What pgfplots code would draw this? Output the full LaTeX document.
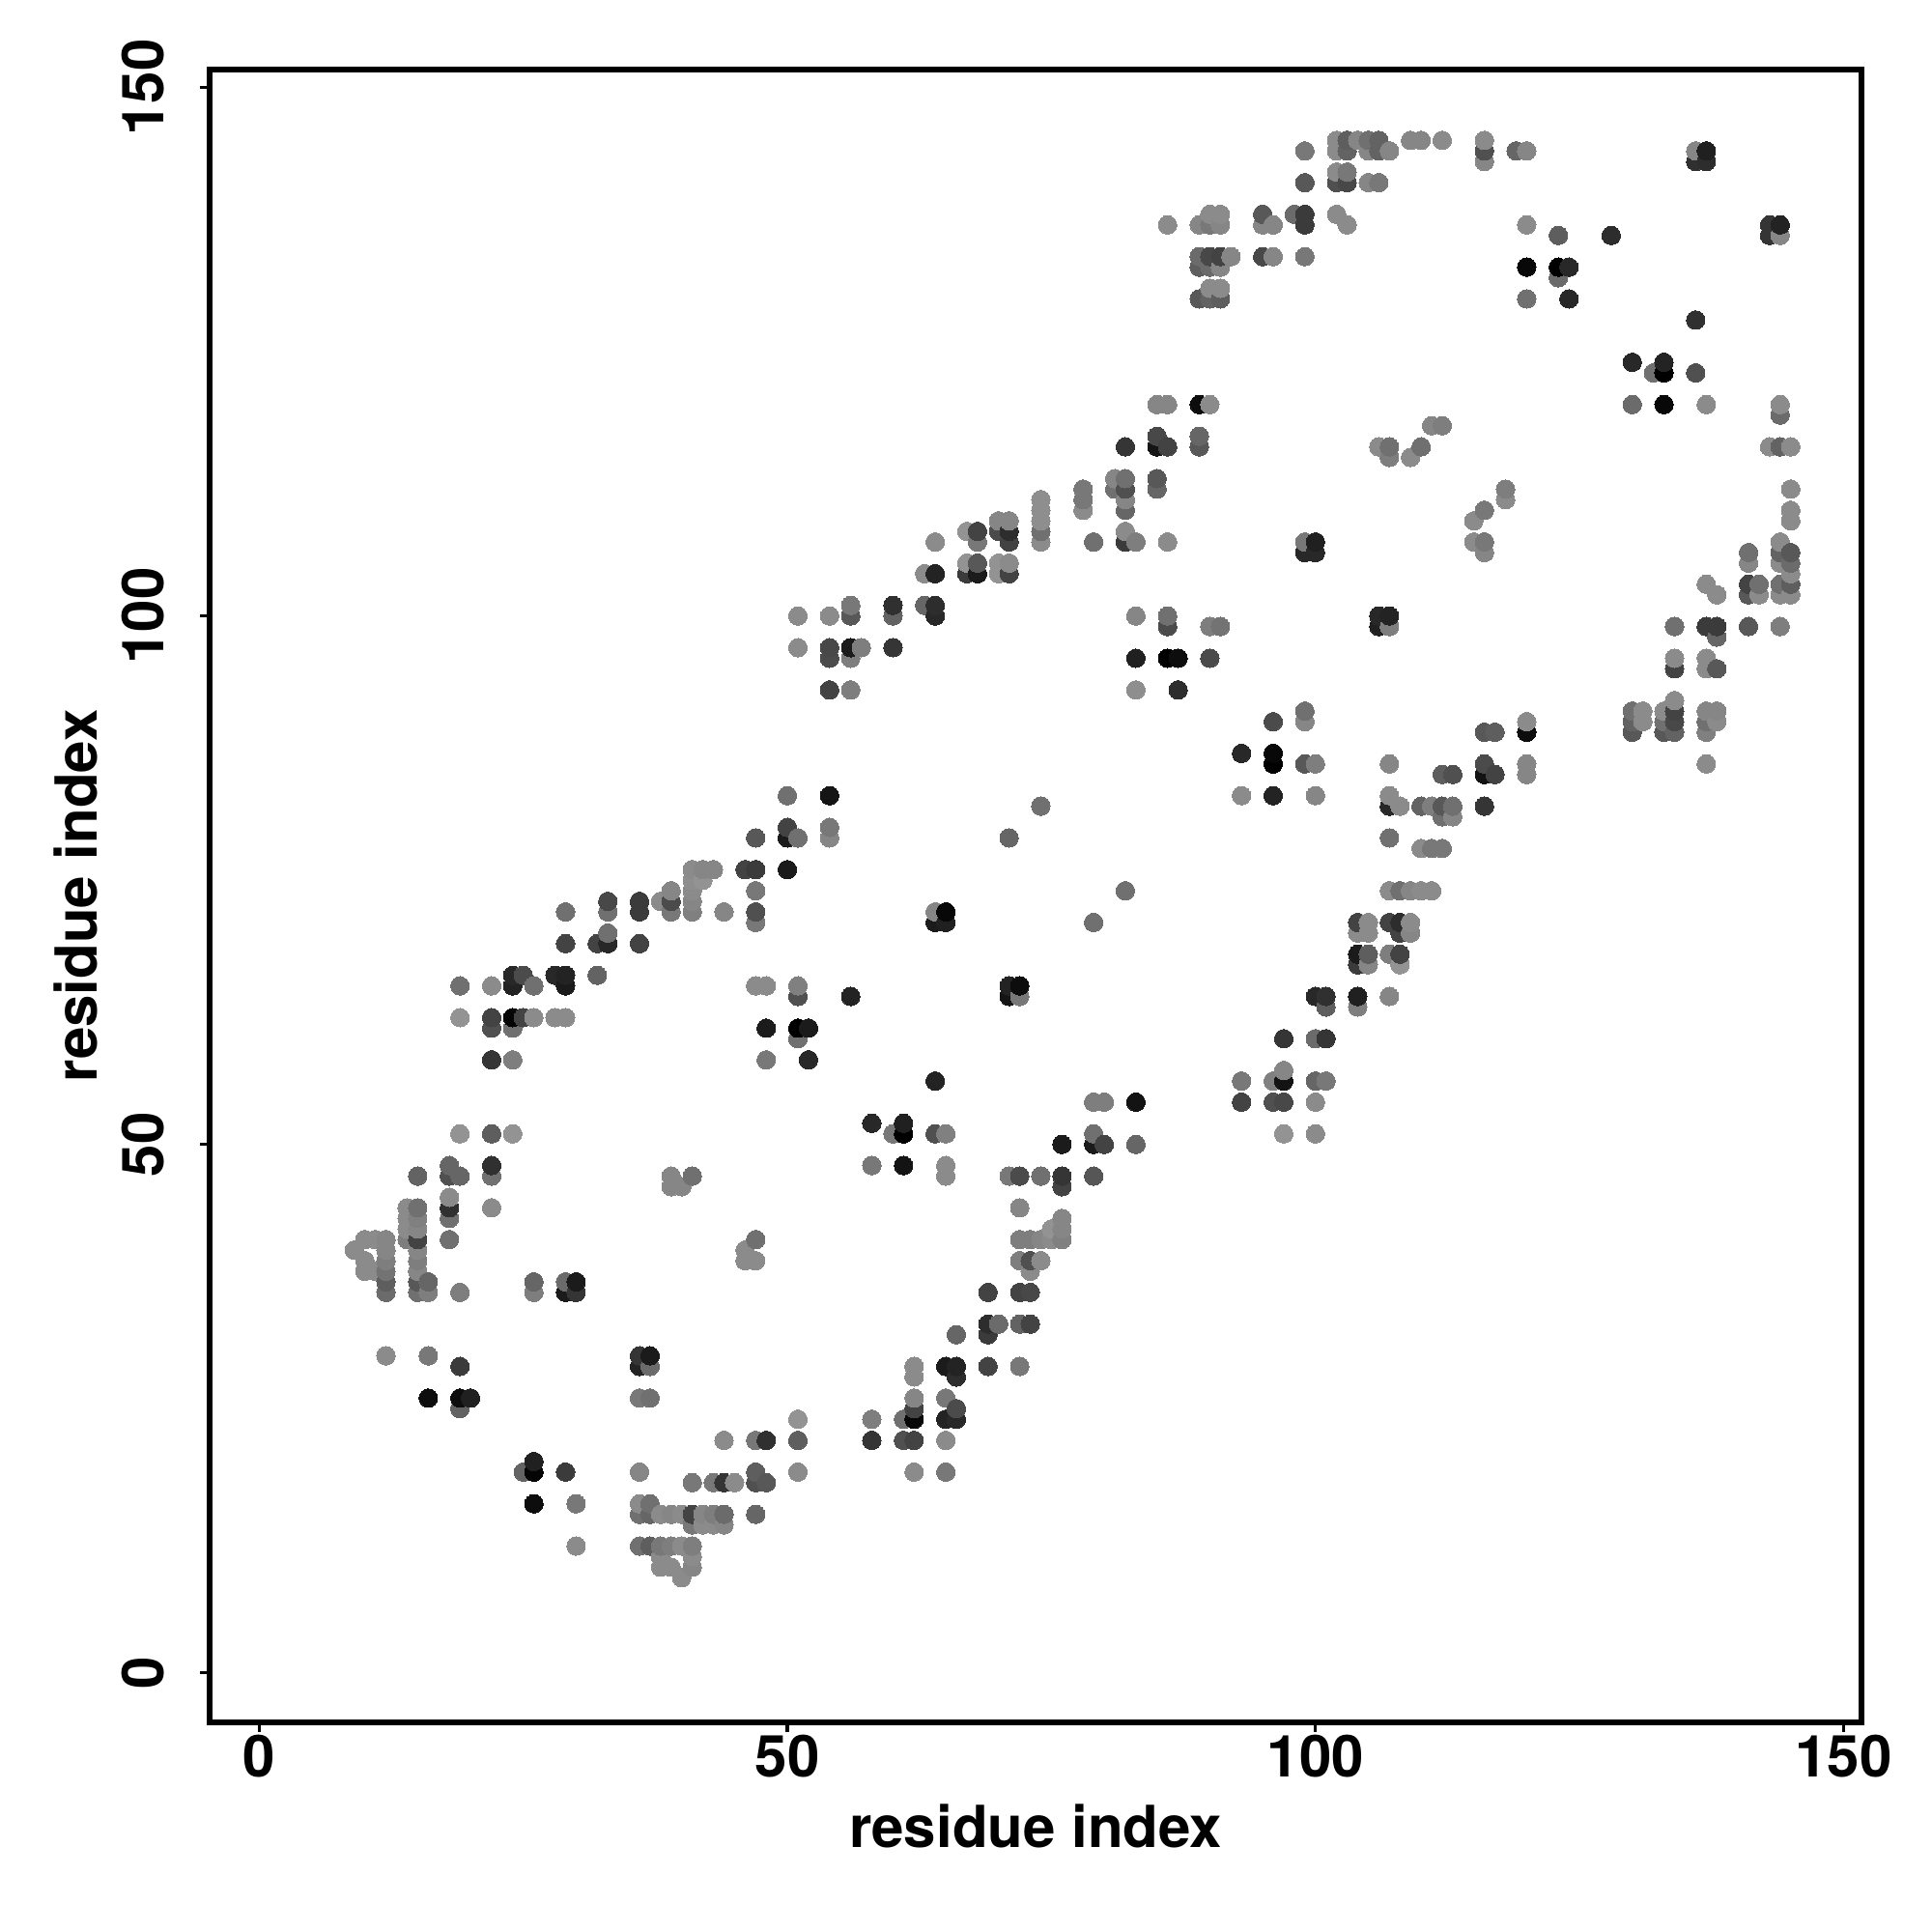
\documentclass[border=0pt]{standalone}
\usepackage{fontspec}
\setmainfont{TeX Gyre Heros}
\usepackage{pgfplots}
\usepackage{pgfplotstable}
\pgfplotsset{compat=1.18}

% x y grey level (0 black, 1 white), sorted by x then y: later points sit on top
\pgfplotstableread[row sep=\\]{
x y g\\
9 40 .52\\
10 38 .52\\ 10 39 .52\\ 10 41 .52\\
11 38 .52\\ 11 41 .52\\
12 30 .52\\ 12 36 .4\\ 12 37 .35\\ 12 38 .43\\ 12 39 .47\\ 12 40 .5\\ 12 41 .5\\
14 41 .47\\ 14 42 .52\\ 14 43 .52\\ 14 44 .52\\
15 36 .42\\ 15 37 .33\\ 15 38 .5\\ 15 39 .47\\ 15 40 .5\\ 15 41 .25\\ 15 42 .5\\ 15 43 .48\\ 15 44 .42\\ 15 47 .37\\
16 26 .05\\ 16 30 .45\\ 16 36 .47\\ 16 37 .38\\
18 41 .42\\ 18 43 .42\\ 18 44 .18\\ 18 45 .52\\ 18 47 .3\\ 18 48 .38\\
19 25 .37\\ 19 26 .05\\ 19 29 .22\\ 19 36 .47\\ 19 47 .38\\ 19 51 .55\\ 19 62 .55\\ 19 65 .42\\
20 26 .12\\
22 44 .52\\ 22 47 .42\\ 22 48 .18\\ 22 51 .35\\ 22 58 .2\\ 22 61 .3\\ 22 62 .25\\ 22 65 .52\\
24 51 .55\\ 24 58 .47\\ 24 61 .42\\ 24 62 .02\\ 24 65 .13\\ 24 66 .15\\
25 19 .37\\ 25 62 .25\\ 25 66 .28\\
26 16 .05\\ 26 19 .02\\ 26 20 .12\\ 26 36 .47\\ 26 37 .38\\ 26 62 .52\\ 26 65 .42\\
28 62 .52\\ 28 66 .15\\
29 19 .22\\ 29 36 .1\\ 29 37 .4\\ 29 62 .52\\ 29 65 .1\\ 29 66 .13\\ 29 69 .25\\ 29 72 .42\\
30 12 .52\\ 30 16 .45\\ 30 36 .2\\ 30 37 .1\\
32 66 .37\\ 32 69 .25\\
33 69 .15\\ 33 70 .42\\ 33 72 .42\\ 33 73 .27\\
36 12 .42\\ 36 15 .42\\ 36 16 .52\\ 36 19 .5\\ 36 26 .45\\ 36 29 .13\\ 36 30 .2\\ 36 69 .25\\ 36 72 .22\\ 36 73 .22\\
37 12 .35\\ 37 15 .38\\ 37 16 .42\\ 37 26 .42\\ 37 29 .4\\ 37 30 .1\\
38 10 .52\\ 38 11 .52\\ 38 12 .45\\ 38 15 .52\\ 38 73 .52\\
39 10 .52\\ 39 12 .47\\ 39 15 .5\\ 39 46 .5\\ 39 47 .5\\ 39 72 .45\\ 39 73 .28\\ 39 74 .5\\
40 9 .52\\ 40 12 .52\\ 40 15 .52\\ 40 46 .5\\
41 10 .5\\ 41 11 .52\\ 41 12 .47\\ 41 14 .45\\ 41 15 .25\\ 41 18 .45\\ 41 47 .42\\ 41 72 .48\\ 41 73 .5\\ 41 74 .52\\ 41 75 .53\\ 41 76 .52\\
42 14 .52\\ 42 15 .5\\ 42 75 .55\\ 42 76 .5\\
43 14 .52\\ 43 15 .47\\ 43 18 .45\\ 43 76 .5\\
44 14 .5\\ 44 15 .4\\ 44 18 .2\\ 44 22 .52\\ 44 72 .5\\
45 18 .52\\
46 39 .52\\ 46 40 .52\\ 46 76 .25\\
47 15 .38\\ 47 18 .3\\ 47 19 .35\\ 47 22 .45\\ 47 39 .52\\ 47 41 .42\\ 47 65 .52\\ 47 71 .45\\ 47 72 .3\\ 47 74 .45\\ 47 76 .22\\ 47 79 .33\\
48 18 .33\\ 48 22 .18\\ 48 58 .45\\ 48 61 .1\\ 48 65 .52\\
50 76 .1\\ 50 79 .1\\ 50 80 .25\\ 50 83 .42\\
51 19 .52\\ 51 22 .35\\ 51 24 .55\\ 51 60 .42\\ 51 61 .0\\ 51 64 .3\\ 51 65 .48\\ 51 79 .42\\ 51 97 .52\\ 51 100 .52\\
52 58 .15\\ 52 61 .1\\
54 79 .5\\ 54 80 .45\\ 54 83 .08\\ 54 93 .25\\ 54 96 .28\\ 54 97 .27\\ 54 100 .52\\
56 64 .13\\ 56 93 .47\\ 56 96 .47\\ 56 97 .1\\ 56 100 .33\\ 56 101 .45\\
57 97 .47\\
58 22 .2\\ 58 24 .47\\ 58 48 .45\\ 58 52 .15\\
60 51 .45\\ 60 97 .2\\ 60 100 .37\\ 60 101 .18\\
61 22 .3\\ 61 24 .42\\ 61 48 .07\\ 61 51 .0\\ 61 52 .12\\
62 19 .52\\ 62 22 .25\\ 62 24 .03\\ 62 25 .25\\ 62 26 .5\\ 62 28 .52\\ 62 29 .52\\
63 101 .38\\ 63 104 .52\\
64 51 .3\\ 64 56 .13\\ 64 71 .1\\ 64 72 .5\\ 64 100 .15\\ 64 101 .17\\ 64 104 .13\\ 64 107 .52\\
65 19 .45\\ 65 22 .52\\ 65 24 .13\\ 65 26 .45\\ 65 29 .1\\ 65 47 .52\\ 65 48 .52\\ 65 51 .48\\ 65 71 .12\\ 65 72 .03\\
66 24 .15\\ 66 25 .28\\ 66 28 .17\\ 66 29 .13\\ 66 32 .38\\
67 104 .22\\ 67 105 .55\\ 67 108 .55\\
68 104 .1\\ 68 105 .33\\ 68 107 .45\\ 68 108 .25\\
69 29 .25\\ 69 32 .22\\ 69 33 .17\\ 69 36 .25\\
70 33 .4\\ 70 104 .55\\ 70 105 .55\\ 70 108 .28\\ 70 109 .5\\
71 47 .45\\ 71 64 .08\\ 71 65 .13\\ 71 79 .38\\ 71 104 .25\\ 71 105 .52\\ 71 107 .25\\ 71 108 .17\\ 71 109 .5\\
72 29 .45\\ 72 33 .37\\ 72 36 .25\\ 72 39 .47\\ 72 41 .47\\ 72 44 .5\\ 72 47 .28\\ 72 64 .45\\ 72 65 .05\\
73 33 .25\\ 73 36 .27\\ 73 38 .52\\ 73 39 .3\\ 73 41 .47\\
74 39 .52\\ 74 41 .5\\ 74 47 .42\\ 74 82 .42\\ 74 107 .52\\ 74 108 .42\\ 74 109 .53\\ 74 110 .53\\ 74 111 .53\\
75 41 .52\\ 75 42 .55\\
76 41 .48\\ 76 42 .5\\ 76 43 .5\\ 76 46 .25\\ 76 47 .2\\ 76 50 .1\\
78 110 .52\\ 78 111 .45\\ 78 112 .45\\
79 47 .32\\ 79 50 .1\\ 79 51 .42\\ 79 54 .47\\ 79 71 .42\\ 79 107 .42\\
80 50 .25\\ 80 54 .47\\
81 112 .42\\ 81 113 .5\\
82 74 .42\\ 82 107 .22\\ 82 108 .52\\ 82 110 .38\\ 82 111 .5\\ 82 112 .3\\ 82 113 .42\\ 82 116 .2\\
83 50 .38\\ 83 54 .07\\ 83 93 .53\\ 83 96 .12\\ 83 100 .5\\ 83 107 .47\\
85 112 .38\\ 85 113 .33\\ 85 116 .08\\ 85 117 .27\\ 85 120 .5\\
86 96 .0\\ 86 99 .28\\ 86 100 .42\\ 86 107 .52\\ 86 116 .25\\ 86 120 .5\\ 86 137 .52\\
87 93 .17\\ 87 96 .05\\
89 116 .33\\ 89 117 .38\\ 89 120 .05\\ 89 130 .33\\ 89 133 .35\\ 89 134 .4\\ 89 137 .5\\
90 96 .28\\ 90 99 .47\\ 90 120 .52\\ 90 130 .37\\ 90 131 .52\\ 90 133 .4\\ 90 134 .27\\ 90 137 .45\\ 90 138 .52\\
91 99 .43\\ 91 130 .35\\ 91 131 .52\\ 91 133 .5\\ 91 134 .25\\ 91 137 .5\\ 91 138 .52\\
92 134 .5\\
93 54 .25\\ 93 56 .45\\ 93 83 .52\\ 93 87 .15\\
95 134 .27\\ 95 137 .5\\ 95 138 .33\\
96 54 .3\\ 96 56 .48\\ 96 83 .13\\ 96 86 .0\\ 96 87 .03\\ 96 90 .28\\ 96 134 .5\\ 96 137 .5\\
97 51 .55\\ 97 54 .27\\ 97 56 .07\\ 97 57 .5\\ 97 60 .2\\
98 138 .4\\
99 86 .33\\ 99 90 .5\\ 99 91 .42\\ 99 106 .15\\ 99 107 .45\\ 99 134 .45\\ 99 137 .22\\ 99 138 .22\\ 99 141 .33\\ 99 144 .45\\
100 51 .52\\ 100 54 .52\\ 100 56 .38\\ 100 60 .4\\ 100 64 .15\\ 100 83 .5\\ 100 86 .47\\ 100 106 .15\\ 100 107 .12\\
101 56 .45\\ 101 60 .2\\ 101 63 .35\\ 101 64 .18\\
102 138 .52\\ 102 141 .3\\ 102 142 .52\\ 102 144 .52\\ 102 145 .52\\
103 137 .52\\ 103 141 .27\\ 103 142 .45\\ 103 144 .37\\ 103 145 .35\\
104 63 .47\\ 104 64 .12\\ 104 67 .22\\ 104 68 .1\\ 104 70 .52\\ 104 71 .25\\ 104 145 .5\\
105 67 .5\\ 105 68 .35\\ 105 70 .52\\ 105 71 .52\\ 105 141 .5\\ 105 144 .5\\ 105 145 .42\\
106 99 .12\\ 106 100 .15\\ 106 116 .52\\ 106 141 .45\\ 106 144 .37\\ 106 145 .37\\
107 64 .5\\ 107 68 .47\\ 107 71 .25\\ 107 74 .52\\ 107 79 .42\\ 107 82 .15\\ 107 83 .52\\ 107 86 .5\\ 107 99 .47\\ 107 100 .13\\ 107 115 .47\\ 107 116 .42\\ 107 144 .5\\
108 67 .55\\ 108 68 .25\\ 108 70 .25\\ 108 71 .17\\ 108 74 .42\\ 108 82 .52\\
109 70 .5\\ 109 71 .52\\ 109 74 .5\\ 109 115 .52\\ 109 145 .5\\
110 74 .52\\ 110 78 .52\\ 110 82 .37\\ 110 116 .42\\ 110 145 .5\\
111 74 .52\\ 111 78 .45\\ 111 82 .47\\ 111 118 .5\\
112 78 .45\\ 112 81 .42\\ 112 82 .33\\ 112 85 .35\\ 112 118 .47\\ 112 145 .52\\
113 81 .5\\ 113 82 .42\\ 113 85 .3\\
115 107 .52\\ 115 109 .52\\
116 82 .2\\ 116 85 .07\\ 116 86 .28\\ 116 89 .33\\ 116 106 .5\\ 116 107 .45\\ 116 110 .45\\ 116 143 .5\\ 116 144 .3\\ 116 145 .52\\
117 85 .25\\ 117 89 .35\\
118 111 .52\\ 118 112 .47\\
119 144 .38\\
120 85 .5\\ 120 86 .5\\ 120 89 .05\\ 120 90 .52\\ 120 130 .42\\ 120 133 .03\\ 120 137 .52\\ 120 144 .5\\
123 132 .4\\ 123 133 .0\\ 123 136 .35\\
124 130 .15\\ 124 133 .15\\
128 136 .17\\
130 89 .33\\ 130 90 .37\\ 130 91 .42\\ 130 120 .4\\ 130 124 .15\\
131 90 .52\\ 131 91 .52\\
132 123 .42\\
133 89 .33\\ 133 90 .42\\ 133 91 .52\\ 133 120 .03\\ 133 123 .0\\ 133 124 .13\\
134 89 .37\\ 134 90 .27\\ 134 91 .25\\ 134 92 .52\\ 134 95 .25\\ 134 96 .52\\ 134 99 .42\\
136 123 .3\\ 136 128 .18\\ 136 143 .18\\ 136 144 .5\\
137 86 .52\\ 137 89 .48\\ 137 90 .42\\ 137 91 .5\\ 137 95 .52\\ 137 96 .52\\ 137 99 .22\\ 137 103 .52\\ 137 120 .52\\ 137 143 .17\\ 137 144 .12\\
138 90 .52\\ 138 91 .5\\ 138 95 .33\\ 138 98 .38\\ 138 99 .22\\ 138 102 .52\\
141 99 .33\\ 141 102 .33\\ 141 103 .25\\ 141 105 .5\\ 141 106 .42\\
142 102 .52\\ 142 103 .42\\
143 116 .52\\ 143 136 .2\\ 143 137 .2\\
144 99 .47\\ 144 102 .52\\ 144 103 .42\\ 144 105 .52\\ 144 106 .37\\ 144 107 .52\\ 144 116 .37\\ 144 119 .4\\ 144 120 .52\\ 144 136 .5\\ 144 137 .13\\
145 102 .52\\ 145 103 .35\\ 145 104 .52\\ 145 105 .4\\ 145 106 .33\\ 145 109 .52\\ 145 110 .52\\ 145 112 .52\\ 145 116 .52\\
}\contacts

\begin{document}
\begin{tikzpicture}
\path[use as bounding box] (-54.25pt,-54.2pt) rectangle ++(500pt,500pt);
\begin{axis}[
    at={(0pt,0pt)}, anchor=south west,
    scale only axis, width=427.5pt, height=427.8pt,
    xmin=-4.7, xmax=151.7, ymin=-4.7, ymax=151.7,
    xtick={0,50,100,150}, ytick={0,50,100,150},
    xtick pos=bottom, ytick pos=left,
    tick align=outside,
    major tick length=2.4pt,
    every tick/.style={black,line width=0.8pt},
    axis line style={line width=1.6pt},
    /pgf/number format/assume math mode=true,
    tick label style={font=\fontsize{15}{16}\selectfont\bfseries,inner sep=0pt},
    label style={font=\fontsize{15}{16}\selectfont\bfseries,inner sep=0pt},
    xticklabel style={anchor=north,yshift=-0.6pt},
    yticklabel style={rotate=90,anchor=south,yshift=9.25pt},
    xlabel={residue index}, ylabel={residue index},
    xlabel style={at={(axis description cs:0.5,-0.0625)},anchor=center},
    ylabel style={at={(axis description cs:-0.081,0.5)},anchor=center,rotate=0},
    colormap={greys}{gray(0cm)=(0); gray(1cm)=(1)},
    point meta min=0, point meta max=0.96,
]
\addplot[scatter,only marks,mark=*,mark size=2.4pt,
    scatter/use mapped color={draw=mapped color,fill=mapped color},
    mark options={line width=0pt},
    point meta=explicit] table[x=x,y=y,meta=g] {\contacts};
\end{axis}
\end{tikzpicture}
\end{document}
